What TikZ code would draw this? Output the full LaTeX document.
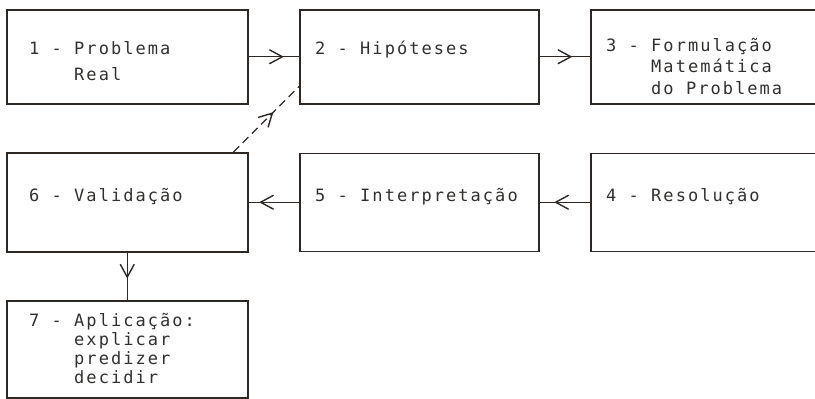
\documentclass[tikz,border=0pt]{standalone}
\usepackage{fontspec}
\usetikzlibrary{arrows.meta,decorations.markings,calc}
\newfontfamily\twfont{DejaVu Sans Mono}[LetterSpace=12]
\definecolor{ink}{RGB}{45,40,36}
\definecolor{txt}{RGB}{50,48,46}
\begin{document}
\begin{tikzpicture}[x=1pt,y=-1pt,
  box/.style={draw=ink, line width=1.5pt, rectangle, anchor=north west, inner sep=0pt},
  lbl/.style={anchor=base west, inner sep=0pt, text=txt, font=\twfont\fontsize{17pt}{19pt}\selectfont},
  conn/.style={draw=ink, line width=1.4pt},
  arr/.style={postaction=decorate, decoration={markings, mark=at position #1 with {\pgfsetdash{}{0pt}\arrow{Straight Barb[length=13pt,width=14pt,line width=1.4pt]}}}},
  dashpat/.style={dash pattern=on 8pt off 5pt}
  ]
\useasboundingbox (0,0) rectangle (815,399);
\clip (0,0) rectangle (815,399);
% boxes
\node[box, minimum width=241pt, minimum height=94pt] (b1) at (6,9) {};
\node[box, minimum width=239pt, minimum height=94pt] (b2) at (299,9) {};
\node[box, minimum width=260pt, minimum height=94pt] (b3) at (590,9) {};
\node[box, minimum width=241pt, minimum height=99pt] (b6) at (6,152) {};
\node[box, minimum width=239pt, minimum height=98pt] (b5) at (299,152.5) {};
\node[box, minimum width=260pt, minimum height=98pt] (b4) at (590,152.5) {};
\node[box, minimum width=241pt, minimum height=97pt] (b7) at (6,300) {};
% texts
\node[lbl] (t1a) at (29,54) {1 - Problema};
\node[lbl] (t1b) at (29,80.5) {\phantom{1 - }Real};
\node[lbl] (t2) at (315,54) {2 - Hipóteses};
\node[lbl] (t3a) at (606,51) {3 - Formulação};
\node[lbl] (t3b) at (606,72.5) {\phantom{3 - }Matemática};
\node[lbl] (t3c) at (606,94) {\phantom{3 - }do Problema};
\node[lbl] (t6) at (29,201) {6 - Validação};
\node[lbl] (t5) at (315,201) {5 - Interpretação};
\node[lbl] (t4) at (606,201) {4 - Resolução};
\node[lbl] (t7a) at (29,326) {7 - Aplicação:};
\node[lbl] (t7b) at (29,345) {\phantom{7 - }explicar};
\node[lbl] (t7c) at (29,364) {\phantom{7 - }predizer};
\node[lbl] (t7d) at (29,383) {\phantom{7 - }decidir};
% connectors
\draw[conn, arr=0.70] (b1.east) -- (b2.west);
\draw[conn, arr=0.65] (b2.east) -- (b3.west);
\draw[conn, arr=0.71] (b4.west) -- (b5.east);
\draw[conn, arr=0.79] (b5.west) -- (b6.east);
\draw[conn, arr=0.55] (b6.south) -- (b7.north);
\coordinate (ds) at ($(b6.north east)+(-15,0)$);
\coordinate (de) at ($(b2.south west)+(0,-18)$);
\draw[conn, dashpat, arr=0.61] (ds) -- (de);
\end{tikzpicture}
\end{document}
